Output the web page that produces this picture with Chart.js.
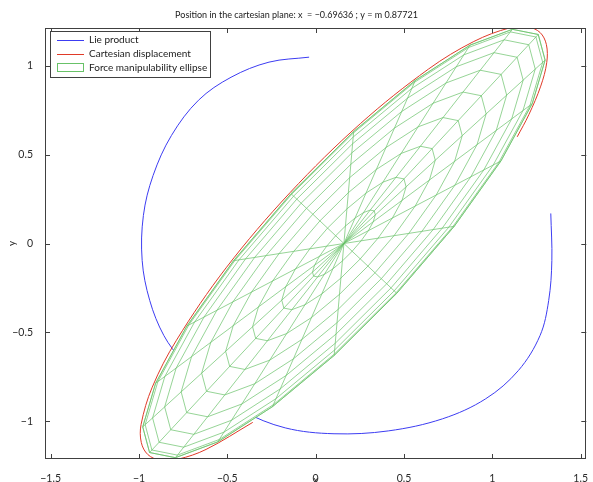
<!DOCTYPE html>
<html>
<head>
<meta charset="utf-8">
<script src="https://cdn.jsdelivr.net/npm/chart.js@4.4.1/dist/chart.umd.min.js"></script>
<style>
  html, body { margin: 0; padding: 0; background: #fff; }
  #wrap { width: 593px; height: 482px; }
</style>
</head>
<body>
<div id="wrap"><canvas id="chart" width="593" height="482"></canvas></div>
<script>
// values
const chartTitle = 'Position in the cartesian plane: x  = \u22120.69636 ; y = m 0.87721';
const seriesNames = ['Lie product', 'Cartesian displacement', 'Force manipulability ellipse'];
const xTicks = [-1.5, -1, -0.5, 0, 0.5, 1, 1.5];
const yTicks = [-1, -0.5, 0, 0.5, 1];
const xRange = [-1.532, 1.532];
const yRange = [-1.212, 1.212];

// Lie product path (blue)
const lieX = [-0.037, -0.264, -0.479, -0.663, -0.816, -0.920, -0.975, -0.982, -0.939, -0.859, -0.755, -0.600, -0.417, -0.172, 0.104, 0.411, 0.718, 0.963, 1.147, 1.270, 1.319, 1.337, 1.331];
const lieY = [1.048, 1.020, 0.935, 0.806, 0.608, 0.383, 0.158, -0.096, -0.321, -0.518, -0.659, -0.810, -0.940, -1.037, -1.070, -1.054, -0.986, -0.873, -0.715, -0.518, -0.321, -0.096, 0.169];

// Cartesian displacement (red, runs along the ellipse edge)
const cartX = [1.141, 1.207, 1.274, 1.308, 1.306, 1.270, 1.200, 1.099, 0.895, 0.640, 0.253, -0.145, -0.507, -0.788, -0.925, -0.988, -0.987, -0.950, -0.881, -0.779, -0.620, -0.356];
const cartY = [0.600, 0.725, 0.885, 1.017, 1.119, 1.187, 1.218, 1.213, 1.136, 0.982, 0.674, 0.286, -0.137, -0.544, -0.808, -1.017, -1.119, -1.187, -1.218, -1.213, -1.158, -1.006];

// force manipulability ellipse (green mesh seen from above)
const ellipseCentre = [0.16, 0];
const ellipseAxes = [1.61, 0.41];
const ellipseTilt = 46.9;
const ringScales = [0.156, 0.309, 0.454, 0.588, 0.707, 0.809, 0.891, 0.951, 0.988, 1];
const meridianAngles = [0, 18, 36, 54, 72, 90, 108, 126, 144, 162, 180, 198, 216, 234, 252, 270, 288, 306, 324, 342];

const BLUE = '#3c3cf2';
const RED = '#e03a28';
const GREEN = 'rgb(104,194,104)';
const FONT = 'Lato, "Open Sans", sans-serif';

function ellipsePoint(s, deg) {
  const t = deg * Math.PI / 180, a = ellipseTilt * Math.PI / 180;
  const u = s * ellipseAxes[0] * Math.cos(t), v = s * ellipseAxes[1] * Math.sin(t);
  return {
    x: ellipseCentre[0] + u * Math.cos(a) - v * Math.sin(a),
    y: ellipseCentre[1] + u * Math.sin(a) + v * Math.cos(a)
  };
}

const closedAngles = meridianAngles.concat(meridianAngles[0]);
const meshPts = [];
ringScales.forEach(s => {
  closedAngles.forEach(d => meshPts.push(ellipsePoint(s, d)));
  meshPts.push({x: null, y: null});
});
meridianAngles.forEach(d => {
  meshPts.push({x: ellipseCentre[0], y: ellipseCentre[1]}, ellipsePoint(1, d), {x: null, y: null});
});
const rimPts = closedAngles.map(d => ellipsePoint(1, d));

const liePts = lieX.map((x, i) => ({x, y: lieY[i]}));
const cartPts = cartX.map((x, i) => ({x, y: cartY[i]}));

const fmt = v => (v < 0 ? '\u2212' : '') + Math.abs(v);

// box, inside ticks, legend and title, MATLAB style
const frame = {
  id: 'frame',
  afterDraw(chart) {
    const {ctx, chartArea: a, scales: {x, y}} = chart;
    const tl = 5;
    ctx.save();
    ctx.strokeStyle = '#404040';
    ctx.lineWidth = 1;
    ctx.strokeRect(Math.round(a.left) + 0.5, Math.round(a.top) + 0.5,
      Math.round(a.right - a.left) - 1, Math.round(a.bottom - a.top) - 1);
    ctx.beginPath();
    xTicks.forEach(v => {
      const px = Math.round(x.getPixelForValue(v)) + 0.5;
      ctx.moveTo(px, a.bottom); ctx.lineTo(px, a.bottom - tl);
      ctx.moveTo(px, a.top); ctx.lineTo(px, a.top + tl);
    });
    yTicks.forEach(v => {
      const py = Math.round(y.getPixelForValue(v)) + 0.5;
      ctx.moveTo(a.left, py); ctx.lineTo(a.left + tl, py);
      ctx.moveTo(a.right, py); ctx.lineTo(a.right - tl, py);
    });
    ctx.stroke();

    // legend
    const lx = 50, ly = 31, lw = 160, lh = 46;
    ctx.fillStyle = '#fff';
    ctx.fillRect(lx, ly, lw, lh);
    ctx.strokeStyle = '#404040';
    ctx.strokeRect(lx + 0.5, ly + 0.5, lw, lh);
    const rows = [40, 54, 68];
    ctx.font = '10px ' + FONT;
    ctx.textBaseline = 'middle';
    ctx.textAlign = 'left';
    [BLUE, RED].forEach((c, i) => {
      ctx.strokeStyle = c;
      ctx.beginPath();
      ctx.moveTo(57, rows[i] + 0.5); ctx.lineTo(84, rows[i] + 0.5);
      ctx.stroke();
    });
    ctx.strokeStyle = GREEN;
    ctx.strokeRect(57.5, rows[2] - 4.5, 26, 8);
    ctx.fillStyle = '#1a1a1a';
    seriesNames.forEach((n, i) => ctx.fillText(n, 89, rows[i]));

    // title
    ctx.font = '9px ' + FONT;
    ctx.textAlign = 'center';
    ctx.fillText(chartTitle, 296.5, 15);
    ctx.restore();
  }
};

new Chart(document.getElementById('chart'), {
  type: 'scatter',
  data: {
    datasets: [
      {label: seriesNames[1], data: cartPts, showLine: true, borderColor: RED, borderWidth: 1,
       pointRadius: 0, tension: 0.35, order: 1},
      {label: seriesNames[2], data: meshPts, showLine: true, borderColor: GREEN, borderWidth: 0.7,
       pointRadius: 0, spanGaps: false, order: 2},
      {label: 'rim', data: rimPts, showLine: true, borderColor: GREEN, borderWidth: 0.7,
       backgroundColor: '#fff', fill: 'shape', pointRadius: 0, order: 3},
      {label: seriesNames[0], data: liePts, showLine: true, borderColor: BLUE, borderWidth: 1,
       pointRadius: 0, tension: 0.35, order: 4}
    ]
  },
  options: {
    responsive: false,
    animation: false,
    events: [],
    layout: {padding: {left: 0, right: 2, top: 28, bottom: 0}},
    plugins: {legend: {display: false}, tooltip: {enabled: false}, title: {display: false}},
    scales: {
      x: {
        type: 'linear', min: xRange[0], max: xRange[1],
        grid: {display: false}, border: {display: false},
        afterBuildTicks: s => { s.ticks = xTicks.map(v => ({value: v})); },
        afterFit: s => { s.height = 23; },
        ticks: {callback: v => fmt(v), color: '#2a2a2a', padding: 5, maxRotation: 0,
                autoSkip: false, font: {family: FONT, size: 10.5}},
        title: {display: true, text: 'x', color: '#2a2a2a', padding: {top: 0, bottom: -4},
                font: {family: FONT, size: 10}}
      },
      y: {
        type: 'linear', min: yRange[0], max: yRange[1],
        grid: {display: false}, border: {display: false},
        afterBuildTicks: s => { s.ticks = yTicks.map(v => ({value: v})); },
        afterFit: s => { s.width = 45; },
        ticks: {callback: v => fmt(v), color: '#2a2a2a', padding: 4, autoSkip: false,
                font: {family: FONT, size: 10.5}},
        title: {display: true, text: 'y', color: '#2a2a2a', padding: {top: 6, bottom: 0},
                font: {family: FONT, size: 10}}
      }
    }
  },
  plugins: [frame]
});
</script>
</body>
</html>
